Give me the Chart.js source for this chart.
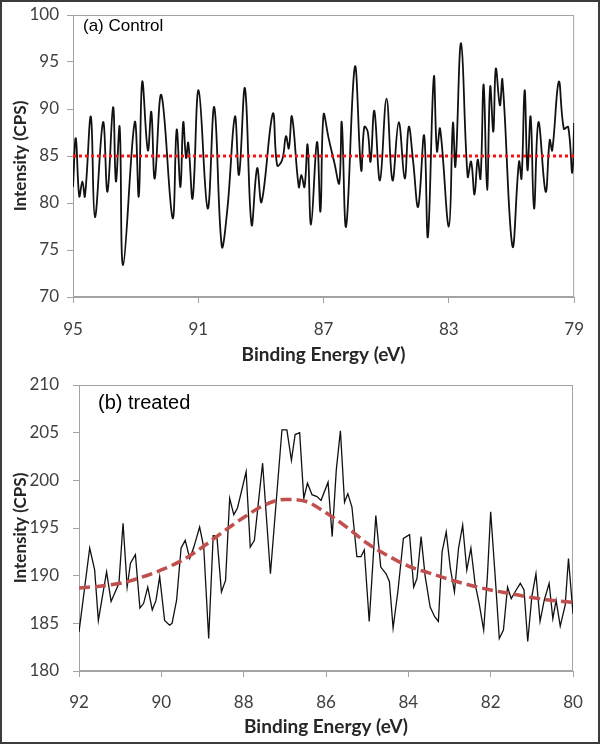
<!DOCTYPE html>
<html lang="en">
  <head>
    <meta charset="UTF-8" />
    <title>XPS Control vs Treated</title>
    <script src="https://cdn.jsdelivr.net/npm/chart.js"></script>
    <style>
      body {
        margin: 0;
        background: white;
      }
      #page {
        position: relative;
        width: 600px;
        height: 744px;
        overflow: hidden;
      }
      canvas {
        position: absolute;
        left: 0;
      }
      #topChart {
        top: 0;
      }
      #bottomChart {
        top: 372px;
      }
      #frame {
        position: absolute;
        inset: 0;
        border: 2px solid #3c3c3c;
        box-sizing: border-box;
        pointer-events: none;
      }
    </style>
  </head>
  <body>
    <div id="page">
      <canvas id="topChart" width="600" height="372"></canvas>
      <canvas id="bottomChart" width="600" height="372"></canvas>
      <div id="frame"></div>
    </div>

    <script>
      // (a) control: binding energy (eV) and intensity (CPS)
      const controlEnergy = [
        95.0, 94.91, 94.8, 94.7, 94.62, 94.43, 94.3, 94.04, 93.9, 93.72,
        93.63, 93.51, 93.4, 93.03, 92.9, 92.79, 92.61, 92.5, 92.39, 92.18,
        91.82, 91.69, 91.57, 91.48, 91.39, 91.32, 91.18, 90.99, 90.7, 90.49,
        90.25, 90.07, 89.83, 89.7, 89.51, 89.3, 89.12, 88.98, 88.62, 88.48,
        88.32, 88.2, 88.11, 88.01, 87.79, 87.71, 87.61, 87.51, 87.4, 87.21,
        87.1, 87.0, 86.84, 86.65, 86.5, 86.42, 86.28, 86.0, 85.8, 85.7,
        85.59, 85.5, 85.38, 85.2, 84.99, 84.8, 84.6, 84.41, 84.28, 84.14,
        83.98, 83.79, 83.67, 83.48, 83.38, 83.28, 83.0, 82.87, 82.79, 82.61,
        82.4, 82.29, 82.18, 82.08, 81.99, 81.89, 81.78, 81.68, 81.58, 81.5,
        81.37, 81.29, 80.97, 80.76, 80.68, 80.58, 80.49, 80.39, 80.28, 80.14,
        79.91, 79.78, 79.7, 79.49, 79.33, 79.19, 79.06, 79.0,
      ]
      const controlIntensity = [
        81.7, 86.9, 80.7, 82.3, 80.7, 89.2, 78.5, 88.6, 81.2, 90.2,
        82.3, 88.1, 73.4, 88.6, 80.7, 92.9, 85.6, 89.7, 82.6, 91.5,
        78.4, 87.8, 81.7, 88.6, 84.8, 86.4, 80.5, 92.0, 79.4, 90.2,
        75.4, 79.4, 89.2, 83.0, 92.2, 77.7, 83.7, 80.1, 89.5, 84.0,
        84.6, 87.1, 85.8, 89.2, 81.7, 83.0, 81.7, 86.2, 77.7, 86.5,
        79.1, 89.4, 86.9, 84.2, 82.1, 88.6, 77.5, 94.5, 83.5, 88.1,
        87.6, 84.4, 89.8, 82.4, 91.1, 82.4, 88.6, 82.6, 88.1, 84.4,
        79.6, 87.2, 76.4, 93.4, 85.5, 87.9, 77.5, 88.5, 83.9, 97.0,
        82.8, 84.4, 80.9, 84.6, 82.6, 92.6, 81.4, 92.4, 87.6, 94.3,
        90.4, 93.1, 75.4, 84.4, 82.6, 92.0, 83.5, 89.2, 79.4, 88.6,
        81.2, 86.7, 85.6, 92.9, 87.9, 88.1, 83.2, 88.5,
      ]
      const controlLevel = 85
      const controlRange = [95, 79]
      const controlTicks = { min: 79, max: 95, step: 4 }
      const controlYTicks = { min: 70, max: 100, step: 5 }

      // (b) treated
      const treatedEnergy = [
        92.0, 91.74, 91.62, 91.53, 91.33, 91.22, 91.03, 90.93, 90.83, 90.75,
        90.63, 90.52, 90.43, 90.33, 90.22, 90.13, 90.04, 89.92, 89.8, 89.74,
        89.63, 89.52, 89.42, 89.31, 89.21, 89.07, 88.97, 88.85, 88.74, 88.65,
        88.54, 88.44, 88.34, 88.24, 88.15, 87.94, 87.84, 87.74, 87.54, 87.35,
        87.07, 86.95, 86.84, 86.75, 86.64, 86.54, 86.45, 86.34, 86.22, 86.12,
        85.95, 85.85, 85.75, 85.65, 85.55, 85.47, 85.37, 85.25, 85.15, 85.07,
        84.95, 84.79, 84.67, 84.54, 84.46, 84.37, 84.25, 84.12, 83.97, 83.87,
        83.79, 83.69, 83.59, 83.47, 83.36, 83.27, 83.18, 83.08, 82.98, 82.88,
        82.78, 82.68, 82.58, 82.48, 82.38, 82.28, 82.17, 82.08, 82.0, 81.89,
        81.79, 81.69, 81.59, 81.5, 81.38, 81.28, 81.19, 81.1, 81.0, 80.9,
        80.8, 80.7, 80.58, 80.49, 80.41, 80.31, 80.19, 80.11, 80.0,
      ]
      const treatedIntensity = [
        184.1, 192.9, 190.6, 185.3, 190.4, 187.3, 189.2, 195.5, 188.8, 191.3,
        192.2, 186.6, 187.1, 188.8, 186.4, 187.4, 189.9, 185.3, 184.8, 185.0,
        187.4, 192.9, 193.7, 191.8, 193.0, 195.1, 193.0, 183.4, 194.2, 194.1,
        188.3, 189.5, 198.1, 196.4, 197.1, 200.9, 193.0, 193.7, 201.8, 190.2,
        205.3, 205.3, 202.1, 204.8, 205.0, 198.1, 199.7, 198.5, 198.3, 197.9,
        199.8, 194.1, 201.1, 205.2, 197.7, 198.6, 197.2, 192.0, 192.0, 192.7,
        185.2, 196.3, 190.9, 190.2, 189.4, 184.5, 188.5, 193.9, 194.3, 188.8,
        189.7, 194.1, 189.9, 186.7, 185.7, 185.2, 192.5, 194.6, 190.8, 188.3,
        192.9, 195.3, 190.6, 192.9, 189.2, 187.1, 184.3, 189.9, 196.7, 189.9,
        183.4, 184.3, 188.8, 187.6, 188.5, 189.2, 188.5, 183.1, 187.8, 190.2,
        185.2, 187.4, 189.2, 185.5, 187.4, 184.7, 186.9, 191.8, 186.0,
      ]
      // fitted peak (red dashed curve)
      const fitEnergy = [
        92, 91.5, 91, 90.5, 90, 89.5, 89, 88.5, 88, 87.5, 87, 86.5, 86, 85.5,
        85, 84.5, 84, 83.5, 83, 82.5, 82, 81.5, 81, 80.5, 80,
      ]
      const fitIntensity = [
        188.7, 188.9, 189.2, 189.8, 190.6, 191.6, 193.0, 194.6, 196.1, 197.4,
        198.0, 197.8, 196.6, 195.1, 193.4, 192.1, 191.0, 190.3, 189.6, 189.0,
        188.5, 188.1, 187.7, 187.4, 187.2,
      ]
      const treatedTicks = { min: 80, max: 92, step: 2 }
      const treatedYTicks = { min: 180, max: 210, step: 5 }

      const pts = (xs, ys) => xs.map((x, i) => ({ x: x, y: ys[i] }))

      const axisGray = '#a3a3a3'
      const tickFont = { family: 'Lato', size: 17 }
      const xTitleFont = { family: 'Lato', size: 19, weight: 'bold' }
      const yTitleFont = { family: 'Lato', size: 17, weight: 'bold' }

      // plot box + panel label
      const boxPlugin = {
        id: 'box',
        beforeDatasetsDraw(chart, args, opts) {
          const { ctx, chartArea: a } = chart
          ctx.save()
          ctx.strokeStyle = axisGray
          ctx.lineWidth = 1
          ctx.strokeRect(a.left + 0.5, a.top + 0.5, a.right - a.left - 1, a.bottom - a.top - 1)
          ctx.fillStyle = '#000'
          ctx.font = opts.size + 'px "Liberation Sans", Arial, sans-serif'
          ctx.textBaseline = 'middle'
          ctx.fillText(opts.label, a.left + opts.dx, a.top + opts.dy)
          ctx.restore()
        },
      }

      function makeOptions(xt, yt, yWidth, xHeight, xPad, pad, label) {
        return {
          responsive: false,
          animation: false,
          layout: { padding: pad },
          plugins: {
            legend: { display: false },
            tooltip: { enabled: false },
            box: label,
          },
          scales: {
            x: {
              type: 'linear',
              reverse: true,
              min: xt.min,
              max: xt.max,
              ticks: { stepSize: xt.step, font: tickFont, color: '#404040', padding: xPad },
              grid: { drawOnChartArea: false, tickLength: 6, color: axisGray },
              border: { color: axisGray },
              title: {
                display: true,
                text: 'Binding Energy (eV)',
                font: xTitleFont,
                color: '#262626',
                padding: { top: 0, bottom: 6 },
              },
              afterFit: (s) => {
                s.height = xHeight
              },
            },
            y: {
              min: yt.min,
              max: yt.max,
              ticks: { stepSize: yt.step, font: tickFont, color: '#404040', padding: yWidth - 65 },
              grid: { drawOnChartArea: false, tickLength: 6, color: axisGray },
              border: { color: axisGray },
              title: {
                display: true,
                text: 'Intensity (CPS)',
                font: yTitleFont,
                color: '#262626',
                padding: { top: 10, bottom: 0 },
              },
              afterFit: (s) => {
                s.width = yWidth
                s.paddingTop = 0
                s.paddingBottom = 0
              },
            },
          },
        }
      }

      new Chart(document.getElementById('topChart'), {
        type: 'line',
        data: {
          datasets: [
            {
              data: pts(controlRange, controlRange.map(() => controlLevel)),
              borderColor: '#ff1010',
              borderWidth: 3,
              borderDash: [3, 3],
              pointRadius: 0,
            },
            {
              data: pts(controlEnergy, controlIntensity),
              borderColor: '#111',
              borderWidth: 1.8,
              pointRadius: 0,
              tension: 0.4,
            },
          ],
        },
        options: makeOptions(
          controlTicks,
          controlYTicks,
          73,
          75,
          16,
          { top: 15, right: 23, left: 0, bottom: 0 },
          { label: '(a) Control', size: 17, dx: 10, dy: 11 }
        ),
        plugins: [boxPlugin],
      })

      new Chart(document.getElementById('bottomChart'), {
        type: 'line',
        data: {
          datasets: [
            {
              data: pts(fitEnergy, fitIntensity),
              borderColor: '#c0504d',
              borderWidth: 3.5,
              borderDash: [11, 5],
              pointRadius: 0,
              cubicInterpolationMode: 'monotone',
            },
            {
              data: pts(treatedEnergy, treatedIntensity),
              borderColor: '#111',
              borderWidth: 1.3,
              pointRadius: 0,
              tension: 0,
            },
          ],
        },
        options: makeOptions(
          treatedTicks,
          treatedYTicks,
          79,
          73,
          15,
          { top: 13, right: 27, left: 0, bottom: 0 },
          { label: '(b) treated', size: 20, dx: 19, dy: 18 }
        ),
        plugins: [boxPlugin],
      })
    </script>
  </body>
</html>
